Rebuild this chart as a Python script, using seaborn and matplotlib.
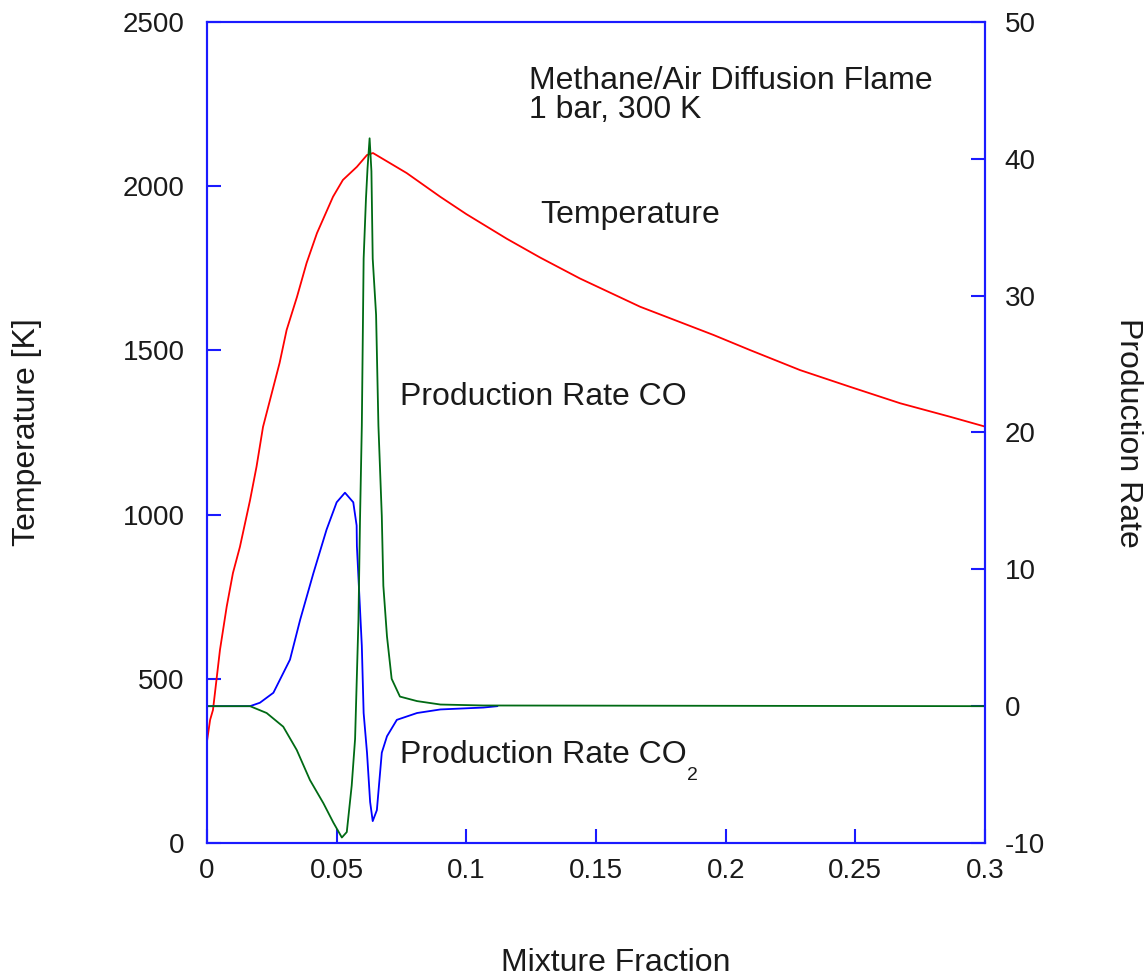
import matplotlib
matplotlib.use("Agg")
import matplotlib.pyplot as plt
import seaborn as sns
import pandas as pd

# ---- data ----
z_temp = [0, 0.0012, 0.0023, 0.005, 0.0076, 0.01, 0.0127, 0.0166, 0.0191, 0.0216,
          0.028, 0.0307, 0.0347, 0.0384, 0.0424, 0.0486, 0.0524, 0.0578, 0.0617,
          0.064, 0.077, 0.0899, 0.1, 0.1156, 0.1284, 0.1438, 0.167,
          0.1953, 0.2094, 0.2287, 0.248, 0.2673, 0.2865, 0.3]
temperature = [310, 375, 405, 588, 720, 822, 902, 1044, 1146, 1267,
               1462, 1562, 1663, 1766, 1857, 1968, 2019, 2059, 2095,
               2101, 2040, 1968, 1915, 1840, 1783, 1719, 1633,
               1547, 1501, 1440, 1389, 1339, 1298, 1268]

z_co2 = [0, 0.0166, 0.0204, 0.0256, 0.032, 0.0359, 0.041, 0.0461, 0.05, 0.0532,
         0.0564, 0.0577, 0.0578, 0.059, 0.0597, 0.0604, 0.0617, 0.0629, 0.0639,
         0.0655, 0.0674, 0.0694, 0.0732, 0.081, 0.09, 0.1066, 0.112]
rate_co2 = [0, 0, 0.25, 0.98, 3.4, 6.3, 9.7, 12.9, 14.9, 15.6,
            14.9, 13.2, 11.7, 7.1, 4.4, -0.5, -3.4, -7.0, -8.4,
            -7.6, -3.4, -2.2, -1.0, -0.5, -0.24, -0.1, 0]

z_co = [0, 0.0166, 0.023, 0.0294, 0.0346, 0.0397, 0.0449, 0.0487, 0.052, 0.0539,
        0.0558, 0.0571, 0.0584, 0.059, 0.0597, 0.0604, 0.0613, 0.0619, 0.0627,
        0.0634, 0.0639, 0.0652, 0.0661, 0.0674, 0.068, 0.0694, 0.0712, 0.0744,
        0.081, 0.09, 0.1066, 0.3]
rate_co = [0, 0, -0.5, -1.5, -3.2, -5.4, -7.1, -8.5, -9.6, -9.2,
           -5.8, -2.4, 6.3, 13.6, 20.5, 32.7, 37.1, 39.3, 41.5,
           39.1, 32.7, 28.6, 20.5, 13.9, 8.8, 5.1, 2.0, 0.7,
           0.37, 0.12, 0.05, 0]

x_ticks = [0, 0.05, 0.1, 0.15, 0.2, 0.25, 0.3]
x_tick_labels = ["0", "0.05", "0.1", "0.15", "0.2", "0.25", "0.3"]
left_ticks = [0, 500, 1000, 1500, 2000, 2500]
right_ticks = [-10, 0, 10, 20, 30, 40, 50]

# ---- style ----
sns.set_style("white")
plt.rcParams["font.family"] = ["Liberation Sans", "DejaVu Sans"]
plt.rcParams["axes.unicode_minus"] = False
AXC = "#1a1aff"
TXT = "#1a1a1a"
FS = 23
TFS = 20

fig = plt.figure(figsize=(11.44, 9.80), dpi=100)
ax = fig.add_axes([207 / 1144, 1 - 843 / 980, 778 / 1144, 821 / 980])
ax2 = ax.twinx()

df_t = pd.DataFrame({"z": z_temp, "T": temperature})
df_co2 = pd.DataFrame({"z": z_co2, "r": rate_co2})
df_co = pd.DataFrame({"z": z_co, "r": rate_co})

sns.lineplot(data=df_t, x="z", y="T", ax=ax, color="#ff0000", lw=1.3,
             estimator=None, sort=False)
sns.lineplot(data=df_co2, x="z", y="r", ax=ax2, color="#0000ff", lw=1.3,
             estimator=None, sort=False)
sns.lineplot(data=df_co, x="z", y="r", ax=ax2, color="#006a14", lw=1.3,
             estimator=None, sort=False)

ax.set_xlim(0, 0.3)
ax.set_ylim(0, 2500)
ax2.set_ylim(-10, 50)
ax.set_xticks(x_ticks)
ax.set_xticklabels(x_tick_labels)
ax.set_yticks(left_ticks)
ax2.set_yticks(right_ticks)

for a in (ax, ax2):
    for s in a.spines.values():
        s.set_color(AXC)
        s.set_linewidth(1.5)
        s.set_visible(True)

ax.tick_params(axis="x", direction="in", length=10, width=1.5, color=AXC,
               labelsize=TFS, labelcolor=TXT, pad=11, top=False, bottom=True)
ax.tick_params(axis="y", direction="in", length=10, width=1.5, color=AXC,
               labelsize=TFS, labelcolor=TXT, pad=16, left=True, right=False)
ax2.tick_params(axis="y", direction="in", length=10, width=1.5, color=AXC,
                labelsize=TFS, labelcolor=TXT, pad=14, right=True, left=False)

ax.set_xlabel("")
ax.set_ylabel("Temperature [K]", fontsize=FS, color=TXT)
ax.yaxis.set_label_coords(-0.212, 0.5)
ax2.set_ylabel("Production Rate", fontsize=FS, color=TXT, rotation=270)
ax2.yaxis.set_label_coords(1.203, 0.5)
fig.text(616 / 1144, 0.002, "Mixture Fraction", fontsize=FS, color=TXT,
         ha="center", va="bottom")

# annotations (left axis data coords)
ax.text(0.1242, 2365, "Methane/Air Diffusion Flame\n1 bar, 300 K", fontsize=FS,
        color=TXT, ha="left", va="top", linespacing=0.95)
ax.text(0.1285, 1888, "Temperature", fontsize=FS, color=TXT, ha="left", va="baseline")
ax.text(0.0744, 1334, "Production Rate CO", fontsize=FS, color=TXT, ha="left", va="baseline")
ax.text(0.0744, 244, "Production Rate CO", fontsize=FS, color=TXT, ha="left", va="baseline")
ax.text(0.1851, 192, "2", fontsize=14, color=TXT, ha="left", va="baseline")

fig.savefig("out.png", dpi=100)
